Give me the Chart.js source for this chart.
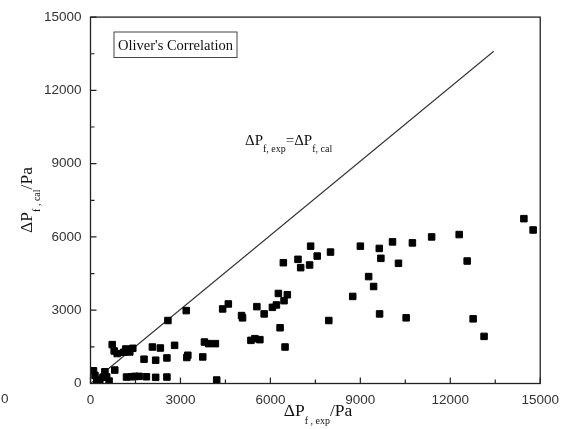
<!DOCTYPE html>
<html>
<head>
<meta charset="utf-8">
<script src="https://cdn.jsdelivr.net/npm/chart.js@4/dist/chart.umd.min.js"></script>
<style>
  html, body { margin: 0; padding: 0; background: #fff; }
  #wrap { width: 568px; height: 429px; position: relative; }
</style>
</head>
<body>
<div id="wrap"><canvas id="c" width="568" height="429"></canvas></div>
<script>
// measured dP (x) vs calculated dP (y), Pa
const expDP = [
  100, 150, 210, 310, 420, 480, 540, 620, 810,
  724, 790, 890, 1112, 1178, 1311, 1411,
  2064, 2330, 2805,
  1786, 2174, 2549, 3213, 3246, 3744,
  3800, 3943, 4165,
  4408, 4597, 5038, 5071, 5549, 5792, 6067,
  5350, 5483, 5649,
  1201, 1367, 1477, 1620, 1865, 2174, 2549,
  4209,
  2582, 3193,
  7342, 9001, 9632, 10073, 10737,
  9685, 10272,
  6432, 6920, 7010, 7308, 7561, 8005,
  9277, 9443, 8746,
  6266, 6565, 6455, 6200,
  6323, 7948, 9642, 10528, 6489,
  11378, 12297, 12563, 14455, 14763, 12762, 13127
];
const calDP = [
  520, 330, 120, 120, 260, 480, 270, 100, 550,
  1592, 1332, 1226, 1279, 1413, 1291, 1441,
  1494, 1453, 1563,
  995, 954, 1047, 1064, 1157, 1088,
  1697, 1632, 1632,
  3053, 3256, 2781, 2688, 3147, 2850, 3118,
  1766, 1835, 1795,
  264, 276, 292, 292, 276, 252, 264,
  142,
  2578, 2984,
  5623, 5623, 5530, 5798, 5757,
  5124, 4921,
  4945, 5083, 4742, 4852, 5217, 5380,
  4377, 3971, 3565,
  3686, 3634, 3390, 3216,
  2282, 2578, 2850, 2688, 1494,
  6001, 6098, 5014, 6748, 6285, 2647, 1929
];
// parity line drawn in the figure
const lineX = [0, 13450];
const lineY = [0, 13600];

const AXIS_MAX = 15000;
const MAJOR = 3000;
const MINOR = 1500;

const SERIF = "'Liberation Serif', 'Times New Roman', serif";
const SANS = "'Liberation Sans', Arial, sans-serif";

// draws text made of [text, size, dy] pieces
function drawRich(ctx, parts, x, y, align) {
  let total = 0;
  for (const p of parts) {
    ctx.font = `${p[1]}px ${SERIF}`;
    total += ctx.measureText(p[0]).width;
  }
  let cx = align === "center" ? x - total / 2 : x;
  for (const p of parts) {
    ctx.font = `${p[1]}px ${SERIF}`;
    ctx.fillText(p[0], cx, y + (p[2] || 0));
    cx += ctx.measureText(p[0]).width;
  }
}

const decor = {
  id: "decor",
  afterDraw(chart) {
    const { ctx, chartArea: a, scales } = chart;
    const xs = scales.x, ys = scales.y;
    ctx.save();
    ctx.strokeStyle = "#222";
    ctx.lineWidth = 1.3;
    ctx.strokeRect(a.left, a.top, a.right - a.left, a.bottom - a.top);

    // inward ticks on bottom and left
    ctx.lineWidth = 1.2;
    ctx.beginPath();
    for (let v = 0; v <= AXIS_MAX; v += MINOR) {
      const len = v % MAJOR === 0 ? 6 : 4;
      const px = xs.getPixelForValue(v);
      ctx.moveTo(px, a.bottom);
      ctx.lineTo(px, a.bottom - len);
      const py = ys.getPixelForValue(v);
      ctx.moveTo(a.left, py);
      ctx.lineTo(a.left + len, py);
    }
    ctx.stroke();

    ctx.fillStyle = "#222";
    ctx.textBaseline = "alphabetic";

    // stray "0" at lower left of the original figure
    ctx.font = `13.5px ${SANS}`;
    ctx.fillStyle = "#333";
    ctx.textAlign = "left";
    ctx.fillText("0", 1, 403);

    // legend box
    ctx.fillStyle = "#111";
    ctx.strokeStyle = "#444";
    ctx.lineWidth = 1;
    ctx.strokeRect(114, 32, 123, 25.5);
    ctx.font = `14.5px ${SERIF}`;
    ctx.textAlign = "center";
    ctx.fillText("Oliver's Correlation", 175.5, 50);

    // parity line label
    ctx.textAlign = "left";
    drawRich(ctx, [["ΔP", 15], ["f, exp", 10, 7], ["=ΔP", 15], ["f, cal", 10, 7]], 245, 145, "left");

    // x title
    drawRich(ctx, [["ΔP", 17.5], ["f , exp", 10, 8], ["/Pa", 17.5]], 318, 416, "center");

    // y title
    ctx.save();
    ctx.translate(32, 200);
    ctx.rotate(-Math.PI / 2);
    drawRich(ctx, [["ΔP", 17.5], ["f , cal", 10, 8], ["/Pa", 17.5]], 0, 0, "center");
    ctx.restore();

    ctx.restore();
  }
};

new Chart(document.getElementById("c"), {
  type: "scatter",
  data: {
    datasets: [
      {
        label: "points",
        data: expDP.map((x, i) => ({ x, y: calDP[i] })),
        pointStyle: "rect",
        pointRadius: 4.6,
        pointBorderWidth: 1,
        backgroundColor: "#000",
        borderColor: "#000",
      },
      {
        label: "parity",
        type: "line",
        data: lineX.map((x, i) => ({ x, y: lineY[i] })),
        borderColor: "#333",
        borderWidth: 1.1,
        pointRadius: 0,
        fill: false,
      },
    ],
  },
  options: {
    responsive: false,
    animation: false,
    layout: { padding: { left: 0, right: 25.5, top: 14, bottom: 0 } },
    plugins: { legend: { display: false }, tooltip: { enabled: false } },
    scales: {
      x: {
        type: "linear",
        min: 0,
        max: AXIS_MAX,
        grid: { display: false, drawTicks: false },
        border: { display: false },
        ticks: {
          stepSize: MAJOR,
          padding: 9,
          color: "#333",
          font: { family: SANS, size: 13.5 },
          maxRotation: 0,
          callback: (v) => String(v),
        },
        afterFit: (s) => { s.height = 45.5; },
      },
      y: {
        type: "linear",
        min: 0,
        max: AXIS_MAX,
        grid: { display: false, drawTicks: false },
        border: { display: false },
        ticks: {
          stepSize: MAJOR,
          padding: 9,
          color: "#333",
          font: { family: SANS, size: 13.5 },
          callback: (v) => String(v),
        },
        afterFit: (s) => { s.width = 90.5; },
      },
    },
  },
  plugins: [decor],
});
</script>
</body>
</html>
